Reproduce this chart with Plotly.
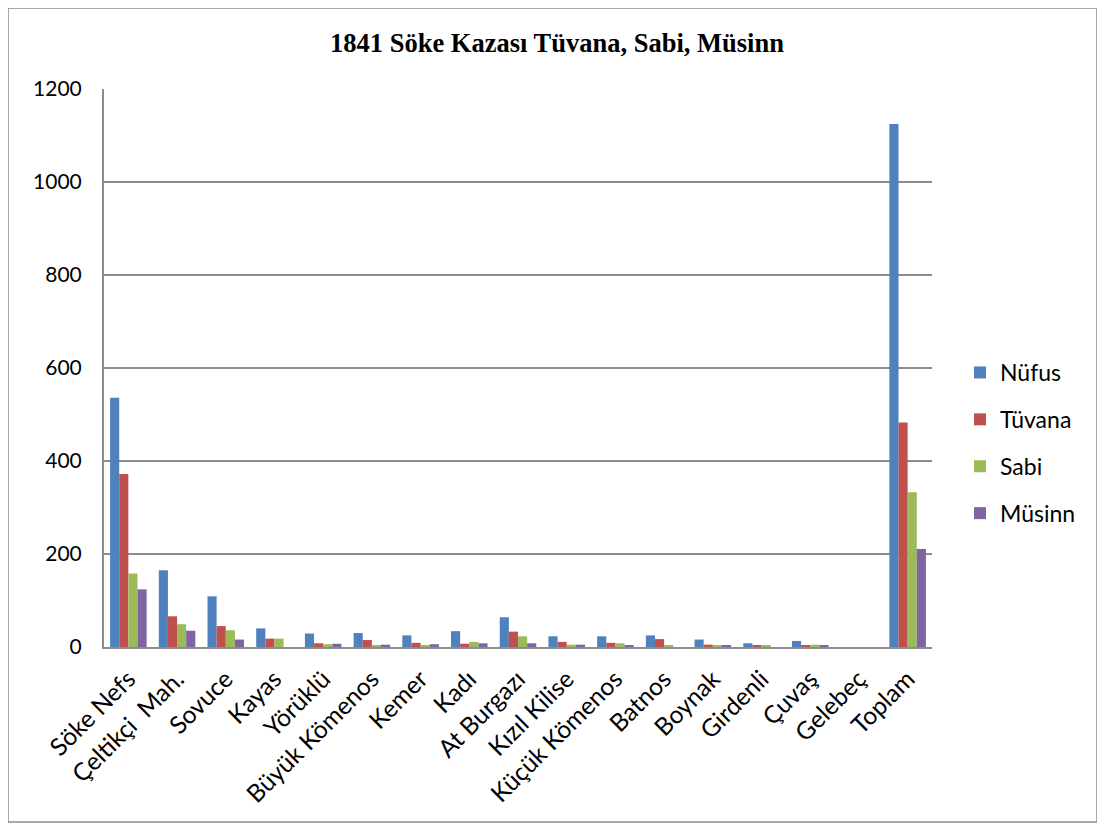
import plotly.graph_objects as go

categories = ["Söke Nefs", "Çeltikçi\u00a0 Mah.", "Sovuce", "Kayas", "Yörüklü", "Büyük Kömenos",
              "Kemer", "Kadı", "At Burgazı", "Kızıl Kilise", "Küçük Kömenos", "Batnos",
              "Boynak", "Girdenli", "Çuvaş", "Gelebeç", "Toplam"]
nufus  = [536, 165, 109, 40, 29, 30, 25, 34, 64, 23, 23, 25, 16, 8, 13, 0, 1125]
tuvana = [372, 66, 45, 18, 8, 15, 9, 7, 33, 11, 9, 17, 5, 3, 3, 0, 483]
sabi   = [158, 49, 36, 18, 6, 4, 4, 11, 23, 5, 8, 3, 3, 3, 5, 0, 333]
musinn = [124, 35, 16, 0, 7, 5, 6, 8, 8, 5, 3, 0, 3, 0, 3, 0, 211]

series = [("Nüfus", nufus, "#4F81BD"), ("Tüvana", tuvana, "#C0504D"),
          ("Sabi", sabi, "#9BBB59"), ("Müsinn", musinn, "#8064A2")]

# figure is drawn at an 8px offset by the page's body margin
L, R, T, B = 104 - 8, 932 - 8, 89 - 8, 647 - 8
W, H = 1105, 827
PW, PH = R - L, B - T

fig = go.Figure()
for i, (name, vals, col) in enumerate(series):
    fig.add_trace(go.Bar(x=categories, y=vals, name=name, marker_color=col,
                         marker_line_width=0, legendgroup=str(i)))

fig.update_layout(
    width=W, height=H,
    paper_bgcolor="white", plot_bgcolor="white",
    margin=dict(l=L, r=W - R, t=T, b=H - B, autoexpand=False),
    barmode="group", bargap=0.25, bargroupgap=0,
    title=dict(text="<b>1841 Söke Kazası Tüvana, Sabi, Müsinn</b>",
               font=dict(family="Liberation Serif", size=26.5, color="black"),
               x=(557 - 8) / W, xanchor="center", xref="container",
               y=1 - 35 / H, yanchor="middle", yref="container"),
    font=dict(family="Lato", size=22, color="black"),
    legend=dict(x=(952 - L) / PW, xanchor="left", y=(B - 435) / PH, yanchor="middle",
                font=dict(family="Lato", size=23, color="black"),
                tracegroupgap=14, itemwidth=30, bgcolor="rgba(0,0,0,0)"),
    showlegend=True,
)
fig.update_xaxes(tickangle=-45, showline=True, linecolor="#8c8c8c", linewidth=2,
                 tickfont=dict(family="Lato", size=24.5), showgrid=False, automargin=False,
                 ticklabelstandoff=6)
fig.update_yaxes(range=[0, 1200], dtick=200, showline=True, linecolor="#8c8c8c", linewidth=2,
                 gridcolor="#8c8c8c", gridwidth=1.5, zeroline=False, automargin=False,
                 tickfont=dict(family="Lato", size=21), ticks="", ticklen=0,
                 ticklabelstandoff=16)

fig.add_shape(type="rect", xref="paper", yref="paper",
              x0=(0 - L) / PW, x1=(1089 - L) / PW,
              y0=(B - 814) / PH, y1=(B - 0) / PH,
              line=dict(color="#8c8c8c", width=1.5), fillcolor="rgba(0,0,0,0)", layer="below")

fig.write_html("out.html")
